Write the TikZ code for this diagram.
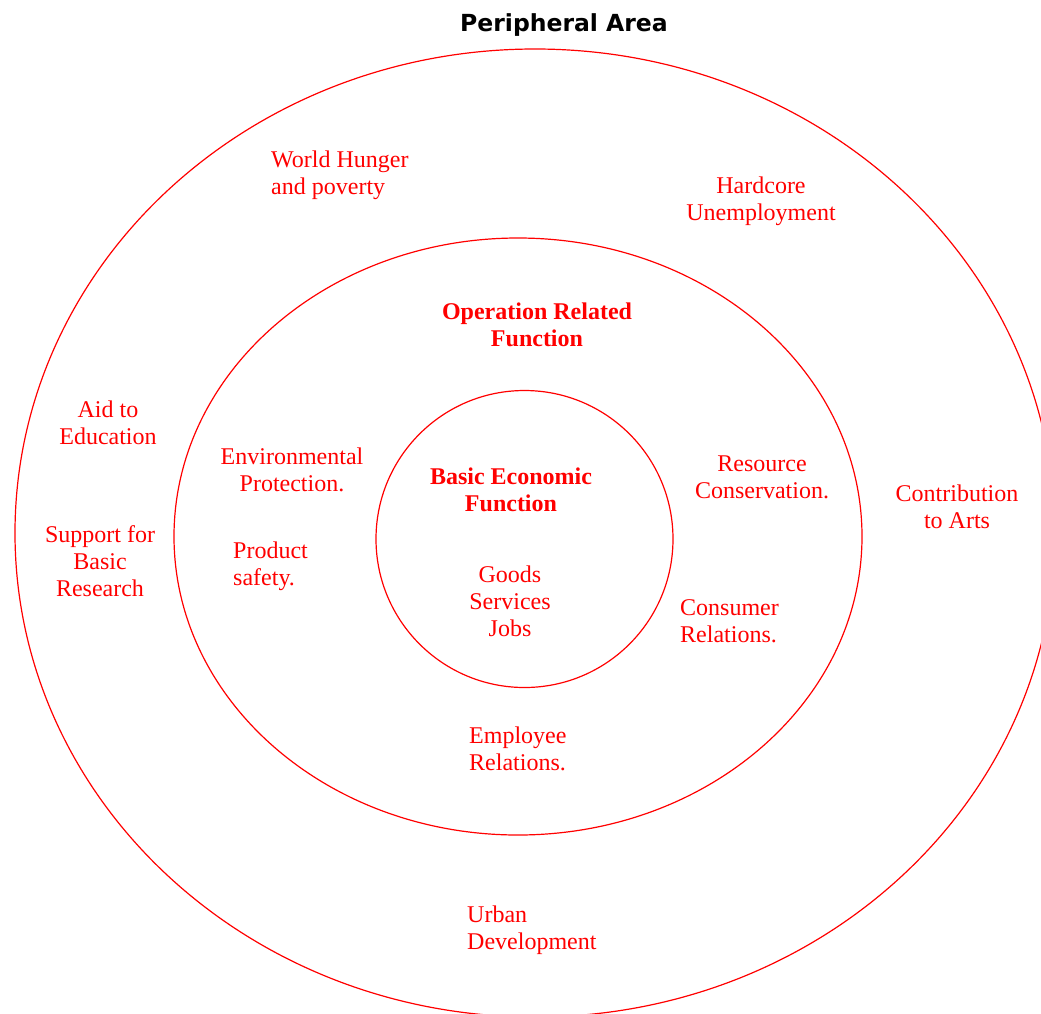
\documentclass[tikz,border=0pt]{standalone}
\usepackage{fontspec}
\setmainfont{Liberation Serif}
\newfontfamily\headfont{DejaVu Sans}
\begin{document}
\begin{tikzpicture}[x=1pt,y=-1pt,
  ring/.style={draw=red, line width=1.2pt},
  lbl/.style={text=red, font=\fontsize{24}{27}\selectfont, align=center, inner sep=0pt},
  lbll/.style={lbl, align=left, anchor=west},
  hdr/.style={text=red, font=\fontsize{24}{27}\selectfont\bfseries, align=center, inner sep=0pt}]
\useasboundingbox (0,0) rectangle (1041,1013);
% rings
\coordinate (outerc) at (535,533);
\coordinate (midc) at (518,536.5);
\coordinate (innc) at (524.5,539);
\draw[ring] (outerc) ellipse [x radius=520pt, y radius=484pt];
\draw[ring] (midc) ellipse [x radius=344pt, y radius=298.5pt];
\draw[ring] (innc) circle [radius=148.5pt];
% title
\node[inner sep=0pt, font=\headfont\bfseries\fontsize{23.5}{27}\selectfont] (title) at (564,25) {Peripheral Area};
% outer ring texts
\node[lbll] (hunger) at (271,175) {World Hunger\\and poverty};
\node[lbl] (hardcore) at (761,201) {Hardcore\\Unemployment};
\node[lbl] (aid) at (108,423) {Aid to\\Education};
\node[lbl] (support) at (100,561) {Support for\\Basic\\Research};
\node[lbl] (arts) at (957,507) {Contribution\\to Arts};
\node[lbll] (urban) at (467,930) {Urban\\Development};
% middle ring texts
\node[hdr] (oper) at (537,325) {Operation Related\\Function};
\node[lbl] (env) at (292,470) {Environmental\\Protection.};
\node[lbl] (res) at (762,477) {Resource\\Conservation.};
\node[lbll] (prod) at (233,566) {Product\\safety.};
\node[lbll] (cons) at (680,621) {Consumer\\Relations.};
\node[lbll] (empl) at (469,749) {Employee\\Relations.};
% inner circle texts
\node[hdr] (basic) at (511,490) {Basic Economic\\Function};
\node[lbl] (goods) at (510,601) {Goods\\Services\\Jobs};
\end{tikzpicture}
\end{document}
